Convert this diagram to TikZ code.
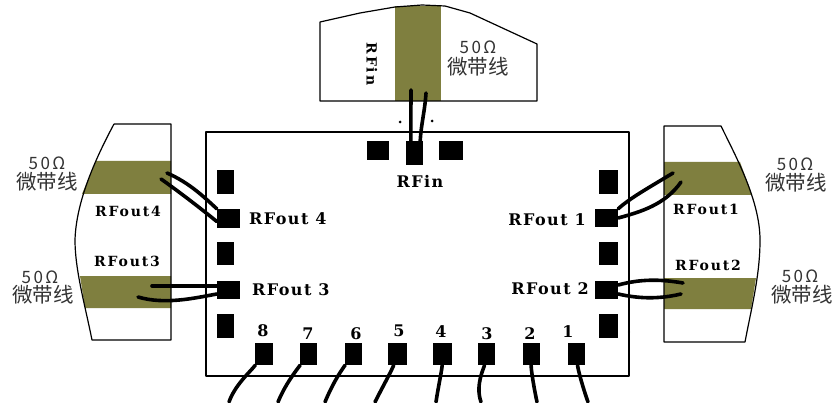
\documentclass[tikz,border=0pt]{standalone}
\usepackage{fontspec}
\setmainfont{DejaVu Serif}
\newfontfamily\serifw[LetterSpace=9]{DejaVu Serif}
\newfontfamily\serifs[LetterSpace=13]{DejaVu Serif}
\newfontfamily\cjkf{Noto Sans CJK SC}
\newfontfamily\cjkw[LetterSpace=14]{Noto Sans CJK SC}
\definecolor{olivestrip}{HTML}{7F7F3F}
\definecolor{cjkgray}{HTML}{333333}
\tikzset{
  x=1pt,y=-1pt,
  outline/.style={draw=black,line width=1.2pt,line join=round},
  strip/.style={fill=olivestrip,draw=none},
  pad/.style={fill=black,draw=none,inner sep=0pt,minimum width=#1},
  padh/.style={minimum height=#1},
  wire/.style={draw=black,line width=3.6pt,line cap=round},
  lab/.style={font=\serifw\bfseries\fontsize{16}{16}\selectfont,inner sep=0pt,text=black},
  slab/.style={font=\serifs\bfseries\fontsize{14}{14}\selectfont,inner sep=0pt,text=black},
  num/.style={font=\bfseries\fontsize{16}{16}\selectfont,inner sep=0pt,text=black},
  zh/.style={font=\cjkf\fontsize{20.5}{20}\selectfont,inner sep=0pt,text=cjkgray},
  zo/.style={font=\cjkw\fontsize{17}{17}\selectfont,inner sep=0pt,text=cjkgray},
}
\newcommand{\padbox}[5]{\node[pad=#4pt,padh=#5pt] (#1) at (#2,#3) {};}
\begin{document}
\begin{tikzpicture}
\useasboundingbox (0,0) rectangle (834,403);
\fill[white] (0,0) rectangle (834,403);
% strips
\fill[strip] (395,6) -- (441,6) -- (441,101) -- (395,101) -- cycle;
\fill[strip] (96,161) -- (171,161) -- (171,194) -- (82,194) -- cycle;
\fill[strip] (80,276) -- (171,276) -- (171,308) -- (85,308) -- cycle;
\fill[strip] (664,162) -- (740,162) -- (752,195) -- (664,195) -- cycle;
\fill[strip] (664,278) -- (756,278) -- (751,309) -- (664,309) -- cycle;
% carrier boards
\draw[outline] (320,22) -- (360,13) -- (395,7) -- (422,5) -- (445,6) -- (470,13) -- (537,44) -- (537,101) -- (320,101) -- cycle;
\draw[outline] (114,124) -- (171,124) -- (171,340) -- (92,340) .. controls (85,305) and (75,270) .. (75,240) .. controls (76,205) and (92,165) .. (114,124);
\draw[outline] (664,126) -- (721,126) .. controls (735,155) and (760,200) .. (760,240) .. controls (760,275) and (752,305) .. (745,342) -- (664,342) -- cycle;
% chip
\draw[outline] (206,132) rectangle (629,376);
\fill (400,122) circle (1.5);
\fill (432,121) circle (1.5);
\fill (629,219) circle (1.2);
\fill (629,332) circle (1.2);
% pads
\padbox{ga}{378}{150.5}{22}{19}
\padbox{rfin}{414.5}{153}{17}{24}
\padbox{gb}{451}{150.5}{24}{19}
\padbox{la}{225.5}{182}{17}{24}
\padbox{lb}{225.5}{253.5}{17}{23}
\padbox{lc}{225.5}{326}{17}{24}
\padbox{ra}{608.5}{182}{19}{24}
\padbox{rb}{608.5}{253.5}{19}{23}
\padbox{rc}{608.5}{326}{19}{24}
\padbox{po4}{228.5}{218.5}{23}{19}
\padbox{po3}{228.5}{290}{23}{18}
\padbox{po1}{606.5}{218}{23}{18}
\padbox{po2}{606.5}{290}{23}{18}
\padbox{b8}{264}{354}{18}{22}
\padbox{b7}{308.5}{354}{17}{22}
\padbox{b6}{353.5}{354}{17}{22}
\padbox{b5}{397.5}{354}{19}{22}
\padbox{b4}{442.5}{354}{19}{22}
\padbox{b3}{486.5}{354}{17}{22}
\padbox{b2}{531.5}{354}{17}{22}
\padbox{b1}{576.5}{354}{17}{22}
% free wire ends
\coordinate (e8) at (229,402);
\coordinate (e7) at (278,402);
\coordinate (e6) at (325,402);
\coordinate (e5) at (375,402);
\coordinate (e4) at (436,402);
\coordinate (e3) at (481,402);
\coordinate (e2) at (537,402);
\coordinate (e1) at (588,402);
\coordinate (ia) at (411,90);
\coordinate (ib) at (426,93);
\coordinate (o4a) at (167,173);
\coordinate (o4b) at (161,179);
\coordinate (o3a) at (152,286);
\coordinate (o3b) at (138,297);
\coordinate (o1a) at (673,173);
\coordinate (o1b) at (681,182);
\coordinate (o2a) at (683,283);
\coordinate (o2b) at (681,294);
% wires
\draw[wire] (ia) -- ([xshift=5pt]rfin.north west);
\draw[wire] (ib) .. controls (425,110) and (421,125) .. ([xshift=-3pt]rfin.north east);
\draw[wire] (o4a) .. controls (190,183) and (205,198) .. (po4.north west);
\draw[wire] (o4b) .. controls (185,196) and (205,212) .. ([yshift=-3pt]po4.west);
\draw[wire] (o3a) -- ([yshift=4pt]po3.west);
\draw[wire] (o3b) .. controls (165,305) and (195,298) .. ([yshift=-4pt]po3.west);
\draw[wire] (po1.north east) .. controls (630,198) and (650,187) .. (o1a);
\draw[wire] (po1.east) .. controls (640,212) and (665,205) .. (o1b);
\draw[wire] ([yshift=5pt]po2.east) .. controls (640,279) and (660,279) .. (o2a);
\draw[wire] ([yshift=-4pt]po2.east) .. controls (640,299) and (660,299) .. (o2b);
\draw[wire] (b8) .. controls (250,372) and (235,385) .. (e8);
\draw[wire] (b7) .. controls (295,372) and (285,385) .. (e7);
\draw[wire] (b6) .. controls (340,372) and (332,385) .. (e6);
\draw[wire] (b5) .. controls (392,370) and (382,388) .. (e5);
\draw[wire] (b4) .. controls (442,370) and (438,388) .. (e4);
\draw[wire] (b3) .. controls (484,368) and (475,385) .. (e3);
\draw[wire] (b2) .. controls (531,370) and (534,388) .. (e2);
\draw[wire] (b1) .. controls (578,370) and (583,388) .. (e1);
% labels
\node[lab] (t1) at (420,181) {RFin};
\node[lab,anchor=west] (t2) at (249,219) {RFout 4};
\node[lab,anchor=west] (t3) at (252,290) {RFout 3};
\node[lab,anchor=east] (t4) at (586,220) {RFout 1};
\node[lab,anchor=east] (t5) at (589,289) {RFout 2};
\node[slab] (t6) at (128,211) {RFout4};
\node[slab] (t7) at (127,261) {RFout3};
\node[slab] (t8) at (706,209) {RFout1};
\node[slab] (t9) at (708,265) {RFout2};
\node[slab,rotate=-90] (t10) at (372,64) {RFin};
\node[num] at (263,331) {8};
\node[num] at (308,334) {7};
\node[num] at (356,334) {6};
\node[num] at (399,331) {5};
\node[num] at (441,332) {4};
\node[num] at (487,334) {3};
\node[num] at (530,334) {2};
\node[num] at (568,332) {1};
% 50 ohm microstrip
\node[zo] at (478,47) {50Ω};
\node[zh] at (478,67) {微带线};
\node[zo] at (47,163) {50Ω};
\node[zh] at (47,182) {微带线};
\node[zo] at (40,277) {50Ω};
\node[zh] at (43,295) {微带线};
\node[zo] at (795,164) {50Ω};
\node[zh] at (796,183) {微带线};
\node[zo] at (800,276) {50Ω};
\node[zh] at (802,295) {微带线};
\end{tikzpicture}
\end{document}
